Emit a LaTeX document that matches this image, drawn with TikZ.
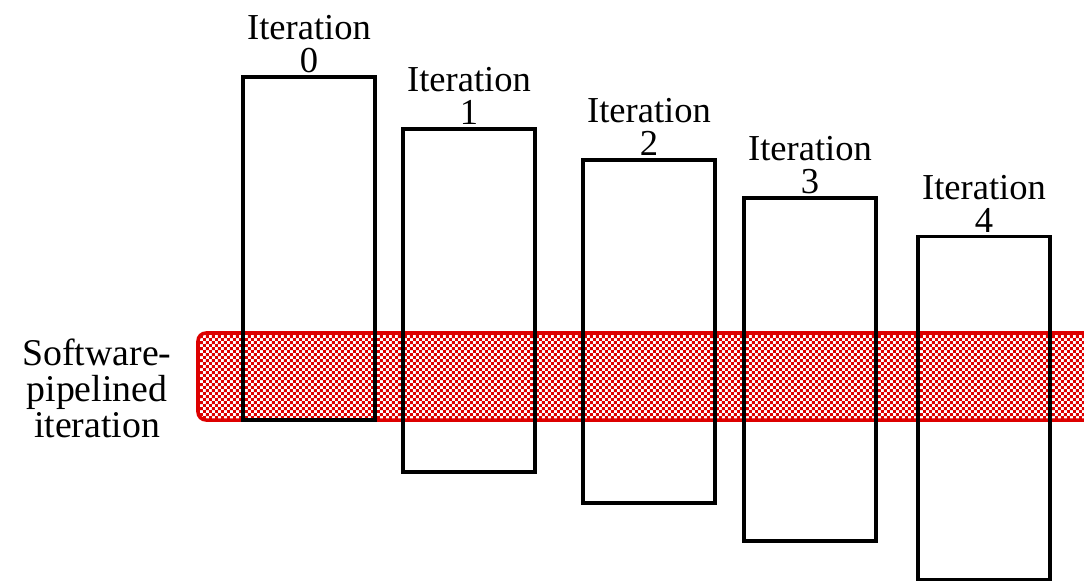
\documentclass[tikz,border=0pt]{standalone}
\usepackage{fontspec}
\setmainfont{Liberation Serif}
\usepackage{xcolor}
\usetikzlibrary{positioning,patterns}
\definecolor{bandred}{RGB}{221,0,0}
\pgfdeclarepatternformonly{checker}{\pgfpointorigin}{\pgfpoint{3.4pt}{3.4pt}}{\pgfpoint{3.4pt}{3.4pt}}{%
\pgfpathrectangle{\pgfpointorigin}{\pgfpoint{1.7pt}{1.7pt}}%
\pgfpathrectangle{\pgfpoint{1.7pt}{1.7pt}}{\pgfpoint{1.7pt}{1.7pt}}%
\pgfusepath{fill}}

\begin{document}
\begin{tikzpicture}[node distance=0pt]
\tikzstyle{iterbox} = [rectangle, minimum width=2.64cm, minimum height=6.86cm, draw=black, line width=2.2pt, inner sep=0pt]
\tikzstyle{iterlabel} = [align=center, inner sep=1pt, font=\fontsize{20.8}{19}\selectfont]
\tikzstyle{band} = [pattern=checker, pattern color=bandred, draw=bandred, line width=2pt, rounded corners=0.16cm]

\useasboundingbox (0,0) rectangle (21.68,-11.6);
\clip (0,0) rectangle (21.68,-11.6);

\draw [band] (3.96,-6.66) rectangle (22.2,-8.4);

\node (it0) [iterbox] at (6.18,-4.97) {};
\node (it1) [iterbox] at (9.38,-6.01) {};
\node (it2) [iterbox] at (12.98,-6.63) {};
\node (it3) [iterbox] at (16.2,-7.39) {};
\node (it4) [iterbox] at (19.68,-8.16) {};

\node (lab0) [iterlabel, above=of it0] {Iteration\\0};
\node (lab1) [iterlabel, above=of it1] {Iteration\\1};
\node (lab2) [iterlabel, above=of it2] {Iteration\\2};
\node (lab3) [iterlabel, above=of it3] {Iteration\\3};
\node (lab4) [iterlabel, above=of it4] {Iteration\\4};

\node (swp) [iterlabel, font=\fontsize{21.5}{20.5}\selectfont] at (1.94,-7.76) {Software-\\pipelined\\iteration};

\end{tikzpicture}
\end{document}
